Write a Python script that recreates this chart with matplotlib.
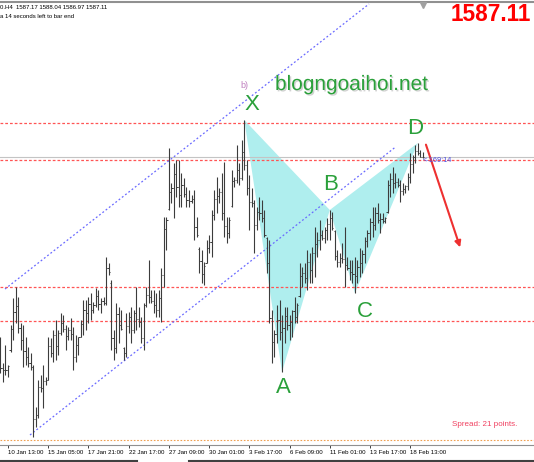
import matplotlib
matplotlib.use("Agg")
import matplotlib.pyplot as plt
import matplotlib.patheffects as pe
from matplotlib.lines import Line2D
import numpy as np

plt.rcParams['font.family'] = ['Liberation Sans', 'DejaVu Sans']

# H4 bars, oldest first
highs = [1551.1, 1545.9, 1549.5, 1545.5, 1553.5, 1558.9, 1561.1, 1559.1, 1553.9, 1553.5,
         1551.1, 1549.1, 1547.9, 1545.5, 1537.1, 1542.5, 1543.5, 1545.5, 1543.1, 1551.1,
         1550.9, 1552.5, 1554.5, 1552.5, 1555.9, 1555.5, 1553.5, 1553.1, 1554.9, 1553.1,
         1551.5, 1551.1, 1554.5, 1558.5, 1558.5, 1559.1, 1559.9, 1558.1, 1560.9, 1560.5,
         1558.9, 1559.1, 1567.1, 1565.9, 1562.5, 1552.5, 1557.9, 1557.1, 1556.5, 1549.1,
         1555.9, 1556.1, 1557.1, 1556.5, 1561.1, 1557.1, 1555.1, 1557.9, 1561.1, 1566.5,
         1560.5, 1560.5, 1559.9, 1560.5, 1564.9, 1575.1, 1575.1, 1588.9, 1581.9, 1585.9,
         1586.5, 1586.5, 1583.9, 1582.9, 1581.1, 1580.5, 1579.5, 1580.5, 1575.1, 1569.1,
         1568.5, 1566.1, 1570.5, 1571.5, 1576.5, 1580.5, 1583.1, 1580.9, 1583.9, 1586.1,
         1575.1, 1575.1, 1584.5, 1583.1, 1589.5, 1585.9, 1590.5, 1594.5, 1586.5, 1583.5,
         1580.9, 1578.5, 1577.1, 1579.1, 1578.5, 1576.5, 1571.1, 1570.5, 1556.5, 1552.5,
         1557.5, 1558.5, 1555.5, 1557.1, 1557.1, 1555.5, 1556.5, 1559.1, 1557.9, 1565.9,
         1565.1, 1565.9, 1568.5, 1567.9, 1569.1, 1573.1, 1572.1, 1574.5, 1572.5, 1573.1,
         1574.9, 1576.5, 1576.1, 1572.5, 1568.5, 1567.9, 1569.9, 1573.1, 1567.1, 1566.5,
         1566.5, 1567.1, 1566.5, 1568.9, 1568.5, 1571.1, 1572.5, 1574.9, 1577.1, 1577.1,
         1577.9, 1575.9, 1575.9, 1575.1, 1582.5, 1583.9, 1585.1, 1583.9, 1582.9, 1582.5,
         1581.9, 1581.5, 1583.9, 1587.9, 1587.5, 1589.5, 1589.9, 1588.5, 1588.04]
lows = [1543.9, 1542.1, 1543.5, 1543.1, 1548.1, 1550.5, 1553.9, 1551.9, 1548.5, 1545.1,
        1545.5, 1545.1, 1544.5, 1531.1, 1533.1, 1534.9, 1540.1, 1536.9, 1541.5, 1542.5,
        1547.1, 1546.1, 1546.5, 1547.5, 1551.5, 1552.1, 1548.5, 1550.5, 1550.5, 1544.5,
        1546.1, 1547.5, 1551.1, 1551.5, 1552.5, 1553.9, 1554.5, 1555.9, 1557.1, 1556.5,
        1555.9, 1557.5, 1557.5, 1563.5, 1548.5, 1546.5, 1547.9, 1549.9, 1552.5, 1546.5,
        1547.1, 1551.9, 1549.9, 1551.9, 1552.5, 1553.1, 1549.9, 1548.5, 1557.1, 1557.9,
        1557.9, 1555.9, 1555.1, 1555.1, 1554.1, 1561.1, 1568.5, 1576.5, 1577.9, 1574.9,
        1579.1, 1577.1, 1577.1, 1579.1, 1577.1, 1577.1, 1577.9, 1570.5, 1571.1, 1563.9,
        1561.9, 1561.5, 1565.9, 1567.9, 1567.1, 1574.5, 1575.9, 1577.9, 1574.5, 1571.1,
        1569.9, 1570.9, 1577.1, 1581.1, 1581.9, 1581.5, 1582.5, 1584.5, 1579.5, 1572.5,
        1577.1, 1567.9, 1572.5, 1574.5, 1574.1, 1571.1, 1563.9, 1553.9, 1545.9, 1547.1,
        1549.9, 1550.5, 1544.1, 1549.9, 1552.5, 1550.5, 1551.1, 1553.9, 1553.9, 1559.1,
        1561.1, 1561.9, 1560.5, 1561.9, 1561.9, 1563.1, 1567.1, 1568.5, 1570.5, 1569.9,
        1570.5, 1570.5, 1572.5, 1566.5, 1565.1, 1565.1, 1565.9, 1561.1, 1564.5, 1562.5,
        1561.9, 1559.9, 1561.9, 1563.1, 1563.9, 1565.9, 1569.1, 1570.5, 1571.1, 1572.5,
        1573.9, 1571.9, 1573.9, 1573.9, 1575.9, 1579.1, 1579.9, 1580.9, 1581.1, 1578.1,
        1579.5, 1579.9, 1580.5, 1581.9, 1583.9, 1585.9, 1587.5, 1587.1, 1586.97]
opens = [1549.0, 1545.0, 1544.6, 1544.5, 1548.6, 1552.8, 1556.2, 1557.4, 1553.0, 1550.6,
         1548.3, 1547.2, 1546.0, 1545.2, 1534.8, 1535.6, 1541.2, 1541.0, 1542.3, 1542.6,
         1549.4, 1548.0, 1551.6, 1549.3, 1552.0, 1554.0, 1552.8, 1551.4, 1552.6, 1551.8,
         1547.2, 1549.6, 1551.1, 1553.7, 1556.5, 1556.0, 1557.8, 1556.6, 1557.6, 1559.4,
         1557.8, 1558.3, 1558.0, 1565.0, 1562.0, 1551.0, 1549.0, 1555.8, 1553.6, 1549.0,
         1548.0, 1553.4, 1555.2, 1552.6, 1555.9, 1554.8, 1554.2, 1551.0, 1557.5, 1559.6,
         1559.2, 1558.4, 1557.6, 1556.5, 1558.9, 1563.5, 1572.8, 1576.8, 1580.2, 1581.0,
         1583.8, 1581.2, 1579.6, 1581.5, 1579.8, 1578.6, 1578.4, 1578.8, 1573.2, 1568.8,
         1566.3, 1563.8, 1566.0, 1569.0, 1570.2, 1575.6, 1578.8, 1579.4, 1580.2, 1576.0,
         1573.4, 1572.0, 1577.4, 1582.4, 1582.6, 1584.5, 1583.0, 1588.2, 1585.6, 1581.0,
         1578.2, 1578.0, 1573.5, 1576.2, 1576.0, 1575.0, 1570.9, 1566.0, 1555.0, 1550.2,
         1551.8, 1554.6, 1552.2, 1553.0, 1555.4, 1553.6, 1554.2, 1556.4, 1555.2, 1559.4,
         1563.4, 1564.0, 1563.0, 1566.2, 1564.6, 1568.0, 1569.8, 1570.6, 1571.6, 1571.0,
         1572.6, 1573.8, 1575.0, 1572.3, 1567.4, 1566.2, 1567.0, 1566.8, 1565.6, 1565.0,
         1564.2, 1563.8, 1563.4, 1565.2, 1566.0, 1567.8, 1570.4, 1572.0, 1574.2, 1573.6,
         1576.0, 1574.6, 1574.8, 1574.4, 1576.2, 1581.6, 1582.8, 1582.0, 1582.2, 1581.6,
         1580.4, 1580.8, 1581.4, 1583.2, 1585.8, 1587.2, 1588.4, 1588.0, 1587.17]
closes = [1545.0, 1544.6, 1544.5, 1545.3, 1552.8, 1556.2, 1557.4, 1553.0, 1550.6, 1548.3,
          1547.2, 1546.0, 1545.2, 1534.8, 1535.6, 1541.2, 1541.0, 1542.3, 1542.6, 1549.4,
          1548.0, 1551.6, 1549.3, 1552.0, 1554.0, 1552.8, 1551.4, 1552.6, 1551.8, 1547.2,
          1549.6, 1551.1, 1553.7, 1556.5, 1556.0, 1557.8, 1556.6, 1557.6, 1559.4, 1557.8,
          1558.3, 1558.0, 1565.0, 1564.2, 1551.0, 1549.0, 1555.8, 1553.6, 1552.8, 1548.0,
          1553.4, 1555.2, 1552.6, 1555.9, 1554.8, 1554.2, 1551.0, 1557.5, 1559.6, 1559.2,
          1558.4, 1557.6, 1556.5, 1558.9, 1563.5, 1572.8, 1574.6, 1580.2, 1581.0, 1583.8,
          1581.2, 1579.6, 1581.5, 1579.8, 1578.6, 1578.4, 1578.8, 1573.2, 1571.6, 1566.3,
          1563.8, 1565.4, 1569.0, 1570.2, 1575.6, 1578.8, 1579.4, 1580.2, 1576.0, 1573.4,
          1572.0, 1574.6, 1582.4, 1582.6, 1584.5, 1583.0, 1588.2, 1585.6, 1581.0, 1578.2,
          1578.0, 1573.5, 1576.2, 1576.0, 1575.0, 1571.6, 1566.0, 1555.0, 1550.2, 1551.8,
          1554.6, 1552.2, 1553.0, 1555.4, 1553.6, 1554.2, 1556.4, 1555.2, 1557.6, 1563.4,
          1564.0, 1563.0, 1566.2, 1564.6, 1568.0, 1569.8, 1570.6, 1571.6, 1571.0, 1572.6,
          1573.8, 1575.0, 1573.0, 1567.4, 1566.2, 1567.0, 1566.8, 1565.6, 1565.0, 1564.2,
          1563.8, 1563.4, 1565.2, 1566.0, 1567.8, 1570.4, 1572.0, 1574.2, 1573.6, 1576.0,
          1574.6, 1574.8, 1574.4, 1575.0, 1581.6, 1582.8, 1582.0, 1582.2, 1581.6, 1580.4,
          1580.8, 1581.4, 1583.2, 1585.8, 1587.2, 1588.4, 1588.0, 1587.17, 1587.11]

tick_bars = [3, 19, 35, 51, 67, 83, 99, 115, 131, 147, 163]
tick_labels = ['10 Jan 13:00', '15 Jan 05:00', '17 Jan 21:00', '22 Jan 17:00',
               '27 Jan 09:00', '30 Jan 01:00', '3 Feb 17:00', '6 Feb 09:00',
               '11 Feb 01:00', '13 Feb 17:00', '18 Feb 13:00']

# XABCD points (bar index)
pattern_names = ['X', 'A', 'B', 'C', 'D']
pattern_bars = [97, 112, 131, 141, 166]

levels = [1593.9, 1586.5, 1561.1, 1554.3]
bid = 1587.11
spread_line = 1530.5

chan_low_x, chan_low_y = [11.75, 156.9], [1531.5, 1589.0]
chan_up_x, chan_up_y = [1.81, 146.6], [1560.7, 1617.7]

arrow_from = (168.9, 1590.1)
arrow_to = (183.2, 1568.5)

W, H = 534, 462
fig = plt.figure(figsize=(W / 100, H / 100), dpi=100)
ax = fig.add_axes([0, 17 / H, 1, 445 / H])
ax.set_xlim(-0.18, -0.18 + W / 2.514)
ax.set_ylim(1529.5, 1618.5)

idx = np.arange(len(highs))
pX, pA, pB, pC, pD = (highs[97], lows[112], highs[131], lows[141], highs[166])
pat_y = [pX, pA, pB, pC, pD]

ax.fill([97, 112, 131], [pX, pA, pB], color='#afeeee', lw=0, zorder=1)
ax.fill([131, 141, 166], [pB, pC, pD], color='#afeeee', lw=0, zorder=1)

ax.axhline(bid, color='#c4c4c4', lw=0.8, zorder=2)
for lv in levels:
    ax.axhline(lv, color='#ff5555', lw=0.9, ls=(0, (2.2, 1.6)), zorder=2)
ax.axhline(spread_line, color='#f0a050', lw=0.8, ls=(0, (1.5, 1.5)), zorder=2)

ax.plot(chan_low_x, chan_low_y, color='#6a6aff', lw=0.9, ls=(0, (1.5, 1.8)), zorder=2)
ax.plot(chan_up_x, chan_up_y, color='#6a6aff', lw=0.9, ls=(0, (1.5, 1.8)), zorder=2)

bar_col = '#3c3c3c'
ax.vlines(idx, lows, highs, color=bar_col, lw=0.8, zorder=3)
ax.hlines(opens, idx - 0.45, idx, color=bar_col, lw=0.7, zorder=3)
ax.hlines(closes, idx, idx + 0.45, color=bar_col, lw=0.7, zorder=3)

offsets = {'X': (5.4, 10.8), 'A': (0.7, -11.5), 'B': (0.7, 18), 'C': (7.2, -13), 'D': (-2, 10.8)}
for name, b, y in zip(pattern_names, pattern_bars, pat_y):
    ax.annotate(name, (b, y), xytext=offsets[name], textcoords='offset points',
                ha='center', va='center', fontsize=16, color='#2aa03a', zorder=5)

ax.annotate('', xy=arrow_to, xytext=arrow_from,
            arrowprops=dict(arrowstyle='-|>', color='#ee3030', lw=1.5, mutation_scale=9),
            zorder=5)

for s in ['top', 'left', 'right']:
    ax.spines[s].set_visible(False)
ax.spines['bottom'].set_color('#909090')
ax.spines['bottom'].set_linewidth(0.8)
ax.set_yticks([])
ax.set_xticks(tick_bars)
ax.set_xticklabels(tick_labels, fontsize=4.4, ha='left')
ax.tick_params(axis='x', length=2.2, width=0.7, color='#404040', pad=1.6)
ax.set_facecolor('white')


def fx(x):
    return x / W


def fy(y):
    return 1 - y / H


fig.text(fx(0), fy(9), '0.H4  1587.17 1588.04 1586.97 1587.11', fontsize=4.3, va='baseline')
fig.text(fx(0), fy(18), 'a 14 seconds left to bar end', fontsize=4.3, va='baseline')
fig.text(fx(451), fy(21), '1587.11', fontsize=16.3, fontweight='bold', color='#ff0000', va='baseline')
fig.text(fx(275), fy(90), 'blogngoaihoi.net', fontsize=15, color='#2aa03a', va='baseline',
         path_effects=[pe.withSimplePatchShadow(offset=(1, -1), shadow_rgbFace='#808080', alpha=0.35)])
fig.text(fx(240), fy(88), 'b)', fontsize=6.5, color='#c080c0', va='baseline')
fig.text(fx(423), fy(162.5), '<-169:14', fontsize=5.3, color='#5050e0', va='baseline')
fig.text(fx(452), fy(426.5), 'Spread: 21 points.', fontsize=5.8, color='#f04060', va='baseline')

fig.add_artist(Line2D([0, 1], [fy(1.5), fy(1.5)], color='#909090', lw=1.5))
fig.add_artist(Line2D([fx(423)], [fy(5)], marker='v', ms=4, color='#a0a0a0', lw=0))
fig.add_artist(Line2D([0, fx(137)], [fy(461), fy(461)], color='#404040', lw=1.5))
fig.add_artist(Line2D([fx(189), 1], [fy(461), fy(461)], color='#404040', lw=1.5))

fig.savefig('out.png', dpi=100)
